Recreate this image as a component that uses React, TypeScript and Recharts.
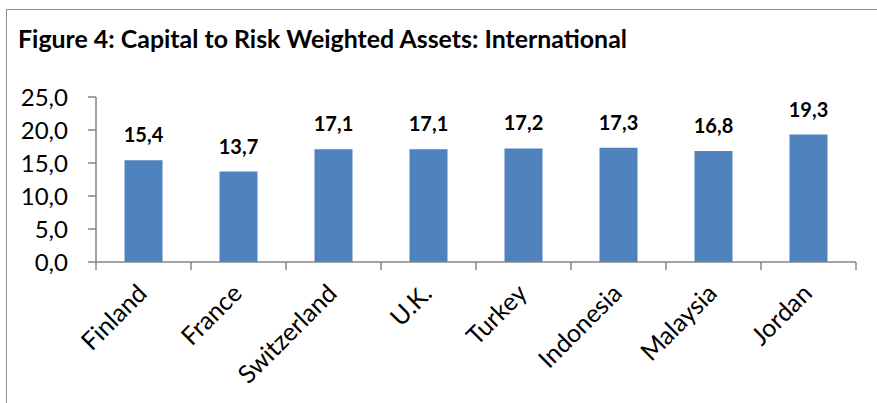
import React from 'react';
import { BarChart, Bar, XAxis, YAxis, LabelList } from 'recharts';

const countries = ['Finland', 'France', 'Switzerland', 'U.K.', 'Turkey', 'Indonesia', 'Malaysia', 'Jordan'];
const carValues = [15.4, 13.7, 17.1, 17.1, 17.2, 17.3, 16.8, 19.3];
const yTicks = [0, 5, 10, 15, 20, 25];

const data = countries.map((c, i) => ({ country: c, car: carValues[i] }));

// comma decimals like the source figure
const fmt = (v: number) => Number(v).toFixed(1).replace('.', ',');

const AXIS = '#868686';
const FONT = 'Lato, "Open Sans", sans-serif';

const CountryTick = (props: any) => {
  const { x, y, payload, index } = props;
  const half = payload.offset ?? 0;
  const tx = x + 5;
  const ty = y + 33;
  return (
    <g>
      <line x1={x - half} x2={x - half} y1={y} y2={y + 8} stroke={AXIS} strokeWidth={1.5} />
      {index === countries.length - 1 && (
        <line x1={x + half} x2={x + half} y1={y} y2={y + 8} stroke={AXIS} strokeWidth={1.5} />
      )}
      <text
        x={tx}
        y={ty}
        transform={`rotate(-45, ${tx}, ${ty})`}
        textAnchor="end"
        fontSize={25}
        fill="#000"
        fontFamily={FONT}
      >
        {payload.value}
      </text>
    </g>
  );
};

const ValueTick = (props: any) => {
  const { x, y, payload } = props;
  return (
    <text x={x - 18} y={y} dy="0.36em" textAnchor="end" fontSize={24} fill="#000" fontFamily={FONT}>
      {fmt(payload.value)}
    </text>
  );
};

export default function App() {
  return (
    <div style={{ position: 'relative', width: 877, height: 403, overflow: 'hidden', background: '#fff' }}>
      <style>{'body{margin:0}'}</style>
      <div
        style={{
          position: 'absolute',
          left: 6,
          top: 9,
          width: 900,
          height: 500,
          borderLeft: '1.5px solid #8c8c8c',
          borderTop: '1.5px solid #8c8c8c',
        }}
      />
      <svg style={{ position: 'absolute', left: 0, top: 0 }} width={877} height={60}>
        <text
          x={18}
          y={48}
          fontFamily={FONT}
          fontWeight="bold"
          fontSize={24}
          fill="#000"
          textLength={609}
          lengthAdjust="spacingAndGlyphs"
        >
          Figure 4: Capital to Risk Weighted Assets: International
        </text>
      </svg>
      <div style={{ position: 'absolute', left: 0, top: 0 }}>
        <BarChart
          width={877}
          height={403}
          data={data}
          margin={{ top: 97, right: 21, bottom: 0, left: 16 }}
          barCategoryGap="30%"
        >
          <XAxis
            dataKey="country"
            height={141}
            interval={0}
            tickLine={false}
            tickSize={0}
            tickMargin={0}
            axisLine={{ stroke: AXIS, strokeWidth: 1.5 }}
            tick={<CountryTick />}
          />
          <YAxis
            width={80}
            domain={[0, 25]}
            ticks={yTicks}
            tickSize={8}
            axisLine={{ stroke: AXIS, strokeWidth: 1.5 }}
            tickLine={{ stroke: AXIS, strokeWidth: 1.5 }}
            tick={<ValueTick />}
          />
          <Bar dataKey="car" fill="#4F81BD" isAnimationActive={false}>
            <LabelList
              dataKey="car"
              position="top"
              offset={18}
              formatter={fmt}
              fontSize={20}
              fontWeight="bold"
              fill="#000"
              fontFamily={FONT}
            />
          </Bar>
        </BarChart>
      </div>
    </div>
  );
}
